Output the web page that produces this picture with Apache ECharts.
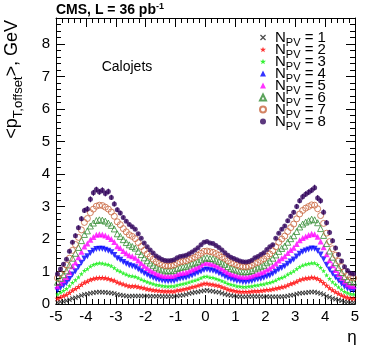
<!DOCTYPE html>
<html>
<head>
<meta charset="utf-8">
<script src="https://cdn.jsdelivr.net/npm/echarts@6/dist/echarts.min.js"></script>
<style>
  html, body { margin: 0; padding: 0; background: #fff; }
  #box01 { width: 374px; height: 359px; }
</style>
</head>
<body>
<div id="box01"></div>
<script>
// eta bin centres
var eta = [-4.95,-4.85,-4.75,-4.65,-4.55,-4.45,-4.35,-4.25,-4.15,-4.05,
  -3.95,-3.85,-3.75,-3.65,-3.55,-3.45,-3.35,-3.25,-3.15,-3.05,
  -2.95,-2.85,-2.75,-2.65,-2.55,-2.45,-2.35,-2.25,-2.15,-2.05,
  -1.95,-1.85,-1.75,-1.65,-1.55,-1.45,-1.35,-1.25,-1.15,-1.05,
  -0.95,-0.85,-0.75,-0.65,-0.55,-0.45,-0.35,-0.25,-0.15,-0.05,
  0.05,0.15,0.25,0.35,0.45,0.55,0.65,0.75,0.85,0.95,
  1.05,1.15,1.25,1.35,1.45,1.55,1.65,1.75,1.85,1.95,
  2.05,2.15,2.25,2.35,2.45,2.55,2.65,2.75,2.85,2.95,
  3.05,3.15,3.25,3.35,3.45,3.55,3.65,3.75,3.85,3.95,
  4.05,4.15,4.25,4.35,4.45,4.55,4.65,4.75,4.85,4.95];

// <pT offset> per NPV
var npv1 = [0.05,0.07,0.08,0.10,0.13,0.17,0.19,0.22,0.26,0.29,
  0.31,0.33,0.35,0.36,0.37,0.36,0.36,0.35,0.34,0.32,
  0.29,0.28,0.26,0.25,0.24,0.25,0.25,0.25,0.25,0.25,
  0.25,0.24,0.24,0.24,0.24,0.23,0.23,0.23,0.23,0.23,
  0.25,0.26,0.27,0.29,0.32,0.34,0.36,0.37,0.39,0.41,
  0.42,0.40,0.39,0.37,0.36,0.33,0.30,0.28,0.26,0.25,
  0.23,0.23,0.22,0.22,0.23,0.23,0.23,0.23,0.23,0.22,
  0.23,0.22,0.22,0.22,0.22,0.22,0.23,0.25,0.27,0.28,
  0.31,0.33,0.34,0.35,0.36,0.37,0.37,0.35,0.32,0.29,
  0.24,0.21,0.17,0.15,0.12,0.10,0.07,0.06,0.05,0.05];
var npv2 = [0.17,0.21,0.25,0.29,0.35,0.42,0.47,0.53,0.60,0.66,
  0.70,0.75,0.78,0.80,0.81,0.81,0.80,0.78,0.75,0.72,
  0.67,0.64,0.61,0.58,0.55,0.55,0.55,0.53,0.51,0.49,
  0.46,0.45,0.43,0.42,0.41,0.40,0.39,0.39,0.39,0.39,
  0.42,0.43,0.45,0.47,0.49,0.52,0.54,0.57,0.60,0.63,
  0.63,0.61,0.60,0.58,0.56,0.52,0.49,0.45,0.43,0.41,
  0.39,0.38,0.38,0.38,0.38,0.39,0.40,0.40,0.41,0.42,
  0.44,0.44,0.46,0.48,0.50,0.52,0.54,0.58,0.62,0.65,
  0.69,0.74,0.77,0.79,0.80,0.82,0.81,0.78,0.72,0.65,
  0.57,0.49,0.43,0.37,0.32,0.27,0.23,0.20,0.18,0.17];
var npv3 = [0.30,0.36,0.41,0.47,0.56,0.66,0.74,0.83,0.93,1.03,
  1.08,1.16,1.21,1.24,1.26,1.25,1.23,1.21,1.17,1.11,
  1.04,1.00,0.95,0.91,0.87,0.86,0.84,0.80,0.76,0.72,
  0.68,0.65,0.62,0.59,0.58,0.56,0.55,0.54,0.55,0.55,
  0.58,0.60,0.62,0.64,0.67,0.70,0.73,0.76,0.80,0.84,
  0.85,0.82,0.81,0.78,0.75,0.71,0.67,0.63,0.60,0.58,
  0.55,0.54,0.53,0.53,0.54,0.55,0.57,0.58,0.60,0.61,
  0.64,0.66,0.69,0.73,0.78,0.81,0.85,0.91,0.96,1.01,
  1.08,1.14,1.19,1.22,1.24,1.26,1.26,1.21,1.12,1.02,
  0.89,0.78,0.68,0.60,0.52,0.45,0.38,0.34,0.31,0.30];
var npv4 = [0.42,0.50,0.57,0.65,0.77,0.91,1.01,1.14,1.27,1.40,
  1.47,1.57,1.64,1.69,1.70,1.70,1.67,1.64,1.59,1.51,
  1.41,1.36,1.29,1.24,1.19,1.16,1.13,1.07,1.01,0.95,
  0.90,0.85,0.81,0.77,0.75,0.72,0.71,0.70,0.71,0.71,
  0.75,0.78,0.79,0.81,0.85,0.88,0.92,0.96,1.00,1.05,
  1.06,1.04,1.02,0.99,0.95,0.90,0.85,0.80,0.77,0.74,
  0.71,0.70,0.68,0.68,0.69,0.71,0.74,0.76,0.78,0.81,
  0.85,0.88,0.93,0.99,1.06,1.11,1.16,1.24,1.31,1.37,
  1.46,1.55,1.61,1.65,1.68,1.71,1.70,1.64,1.52,1.38,
  1.21,1.06,0.94,0.82,0.72,0.62,0.54,0.48,0.44,0.42];
var npv5 = [0.55,0.65,0.73,0.83,0.98,1.16,1.28,1.44,1.61,1.77,
  1.86,1.98,2.06,2.13,2.15,2.14,2.11,2.06,2.00,1.91,
  1.78,1.72,1.63,1.56,1.50,1.47,1.42,1.34,1.26,1.18,
  1.11,1.05,1.00,0.95,0.91,0.88,0.86,0.86,0.86,0.88,
  0.92,0.95,0.96,0.98,1.02,1.06,1.10,1.15,1.21,1.26,
  1.28,1.25,1.23,1.19,1.15,1.09,1.03,0.98,0.93,0.91,
  0.88,0.85,0.84,0.83,0.85,0.87,0.91,0.93,0.97,1.00,
  1.06,1.10,1.17,1.25,1.34,1.41,1.47,1.57,1.66,1.73,
  1.85,1.96,2.03,2.08,2.12,2.16,2.15,2.07,1.92,1.75,
  1.53,1.35,1.19,1.05,0.92,0.80,0.69,0.61,0.56,0.55];
var npv6 = [0.67,0.79,0.90,1.02,1.20,1.41,1.56,1.74,1.95,2.14,
  2.25,2.40,2.49,2.57,2.59,2.58,2.55,2.49,2.42,2.31,
  2.16,2.08,1.98,1.89,1.82,1.77,1.72,1.62,1.52,1.42,
  1.33,1.26,1.19,1.13,1.08,1.05,1.02,1.02,1.02,1.04,
  1.09,1.12,1.14,1.16,1.20,1.24,1.27,1.30,1.36,1.41,
  1.42,1.40,1.39,1.35,1.31,1.26,1.22,1.15,1.10,1.07,
  1.04,1.01,0.99,0.99,1.00,1.03,1.08,1.11,1.15,1.19,
  1.27,1.32,1.41,1.51,1.62,1.71,1.78,1.90,2.01,2.10,
  2.23,2.37,2.46,2.52,2.56,2.61,2.59,2.50,2.32,2.11,
  1.86,1.63,1.44,1.27,1.12,0.97,0.84,0.75,0.69,0.67];
var npv7 = [0.80,0.94,1.06,1.20,1.41,1.65,1.83,2.05,2.28,2.51,
  2.63,2.81,2.92,3.01,3.04,3.03,2.98,2.92,2.83,2.70,
  2.53,2.44,2.32,2.22,2.13,2.08,2.01,1.89,1.77,1.65,
  1.54,1.46,1.38,1.30,1.25,1.21,1.18,1.17,1.18,1.20,
  1.25,1.29,1.31,1.33,1.37,1.40,1.44,1.50,1.56,1.62,
  1.63,1.61,1.59,1.55,1.50,1.44,1.40,1.33,1.27,1.24,
  1.20,1.16,1.15,1.14,1.16,1.19,1.25,1.28,1.34,1.39,
  1.47,1.54,1.64,1.76,1.90,2.00,2.09,2.23,2.35,2.46,
  2.62,2.77,2.88,2.95,3.00,3.05,3.04,2.93,2.72,2.48,
  2.18,1.92,1.70,1.50,1.32,1.15,1.00,0.89,0.82,0.80];
var npv8 = [0.92,1.08,1.22,1.38,1.62,1.90,2.10,2.35,2.62,2.88,
  2.92,3.22,3.42,3.52,3.45,3.50,3.40,3.46,3.28,3.08,
  2.90,2.80,2.66,2.55,2.45,2.38,2.30,2.16,2.02,1.88,
  1.76,1.66,1.57,1.48,1.42,1.37,1.34,1.33,1.34,1.36,
  1.42,1.46,1.48,1.50,1.55,1.60,1.66,1.73,1.82,1.90,
  1.92,1.88,1.86,1.80,1.74,1.66,1.58,1.50,1.44,1.40,
  1.36,1.32,1.30,1.29,1.31,1.35,1.42,1.46,1.52,1.58,
  1.68,1.76,1.82,2.02,2.18,2.30,2.40,2.56,2.70,2.82,
  3.00,3.18,3.30,3.38,3.44,3.50,3.58,3.26,3.18,2.82,
  2.50,2.20,1.95,1.72,1.52,1.32,1.15,1.03,0.95,0.92];
// statistical errors on NPV = 8 (visible only for this one)
var err8 = [0.05,0.05,0.05,0.05,0.06,0.06,0.07,0.07,0.08,0.08,
  0.09,0.09,0.09,0.09,0.09,0.09,0.09,0.09,0.08,0.08,
  0.07,0.07,0.06,0.05,0.05,0.04,0.04,0.04,0.03,0.03,
  0.03,0.03,0.03,0.03,0.03,0.03,0.03,0.03,0.03,0.03,
  0.03,0.03,0.03,0.03,0.03,0.03,0.03,0.03,0.03,0.03,
  0.03,0.03,0.03,0.03,0.03,0.03,0.03,0.03,0.03,0.03,
  0.03,0.03,0.03,0.03,0.03,0.03,0.03,0.03,0.03,0.03,
  0.03,0.03,0.04,0.04,0.04,0.05,0.05,0.06,0.07,0.07,
  0.08,0.08,0.09,0.09,0.09,0.09,0.09,0.09,0.09,0.09,
  0.08,0.08,0.07,0.07,0.06,0.06,0.05,0.05,0.05,0.05];

var yTicks = [0, 1, 2, 3, 4, 5, 6, 7, 8];
var xTicks = [-5, -4, -3, -2, -1, 0, 1, 2, 3, 4, 5];

var FONT = 'Liberation Sans, Arial, Helvetica, sans-serif';

var crossPath = 'path://M0,1.5 L1.5,0 L5,3.5 L8.5,0 L10,1.5 L6.5,5 L10,8.5 L8.5,10 L5,6.5 L1.5,10 L0,8.5 L3.5,5 Z';
var starPath = 'path://M5,0 L6.18,3.38 L9.76,3.45 L6.9,5.62 L7.94,9.05 L5,7 L2.06,9.05 L3.1,5.62 L0.24,3.45 L3.82,3.38 Z';

function pairs(vals) {
    return eta.map(function (e, i) { return [e, vals[i]]; });
}

var myChart = echarts.init(document.getElementById('box01'));

// axis helpers (ROOT style frame, ticks inside)
function xAxisOpt(pos, labels) {
    return {
        type: 'value', position: pos, min: xTicks[0], max: xTicks[xTicks.length - 1], interval: 1,
        axisLine: { show: true, onZero: false, lineStyle: { color: '#000', width: 1 } },
        axisTick: { show: true, inside: true, length: 9, lineStyle: { color: '#000' } },
        minorTick: { show: true, splitNumber: 5, length: 5, lineStyle: { color: '#000' } },
        splitLine: { show: false },
        axisLabel: { show: labels, color: '#000', fontSize: 15, fontFamily: FONT, margin: 5 }
    };
}
function yAxisOpt(pos, labels) {
    return {
        type: 'value', position: pos, min: yTicks[0], max: 8.8, interval: 1,
        axisLine: { show: true, onZero: false, lineStyle: { color: '#000', width: 1 } },
        axisTick: { show: true, inside: true, length: 9, lineStyle: { color: '#000' } },
        minorTick: { show: true, splitNumber: 5, length: 5, lineStyle: { color: '#000' } },
        splitLine: { show: false },
        axisLabel: { show: labels, showMaxLabel: false, color: '#000', fontSize: 15, fontFamily: FONT, margin: 6 }
    };
}

var seriesDef = [
    { n: 1, d: npv1, symbol: crossPath, size: 5, color: '#222222' },
    { n: 2, d: npv2, symbol: starPath, size: 6, color: '#ff0000' },
    { n: 3, d: npv3, symbol: starPath, size: 5, color: '#00ee00' },
    { n: 4, d: npv4, symbol: 'triangle', rot: 180, size: 6, color: '#0000ff' },
    { n: 5, d: npv5, symbol: 'triangle', size: 6, color: '#ff00ff' },
    { n: 6, d: npv6, symbol: 'triangle', size: 6, color: '#338c33', open: true },
    { n: 7, d: npv7, symbol: 'circle', size: 6, color: '#c8643c', open: true },
    { n: 8, d: npv8, symbol: 'circle', size: 5, color: '#33065e' }
];

var series = seriesDef.map(function (s) {
    return {
        name: 'NPV = ' + s.n,
        type: 'scatter',
        data: pairs(s.d),
        symbol: s.symbol,
        symbolSize: s.size,
        symbolRotate: s.rot || 0,
        itemStyle: s.open
            ? { color: 'rgba(255,255,255,0)', borderColor: s.color, borderWidth: 1 }
            : { color: s.color },
        emphasis: { disabled: true }
    };
});

// error bars for NPV = 8
series.push({
    name: 'err8',
    type: 'custom',
    data: eta.map(function (e, i) { return [e, npv8[i], err8[i]]; }),
    renderItem: function (params, api) {
        var lo = api.coord([api.value(0), api.value(1) - api.value(2)]);
        var hi = api.coord([api.value(0), api.value(1) + api.value(2)]);
        return {
            type: 'line',
            shape: { x1: lo[0], y1: lo[1], x2: hi[0], y2: hi[1] },
            style: { stroke: '#33065e', lineWidth: 1 }
        };
    },
    z: 1
});

var legendNames = seriesDef.map(function (s) { return 'NPV = ' + s.n; });

var option = {
    animation: false,
    backgroundColor: '#fff',
    grid: { left: 56, right: 19, top: 18, bottom: 55 },
    xAxis: [xAxisOpt('bottom', true), xAxisOpt('top', false)],
    yAxis: [yAxisOpt('left', true), yAxisOpt('right', false)],
    legend: {
        orient: 'vertical', left: 254, top: 22,
        itemWidth: 6, itemHeight: 6, itemGap: -9,
        selectedMode: false,
        data: legendNames,
        formatter: function (name) {
            return '{n0|N}{s|PV}{n|' + name.replace('NPV', '') + '}';
        },
        textStyle: {
            color: '#000', fontFamily: FONT,
            rich: {
                n0: { fontSize: 15, lineHeight: 12, verticalAlign: 'middle', fontFamily: FONT, color: '#000', padding: [0, 0, 0, 4] },
                n: { fontSize: 15, lineHeight: 12, verticalAlign: 'middle', fontFamily: FONT, color: '#000' },
                s: { fontSize: 11, lineHeight: 2, verticalAlign: 'middle', padding: [10, 0, 0, 0], fontFamily: FONT, color: '#000' }
            }
        }
    },
    graphic: [
        {
            type: 'text', left: 56, top: 2,
            style: {
                text: '{b|CMS, L = 36 pb}{sup|-1}',
                rich: {
                    b: { fontSize: 14, fontWeight: 'bold', fontFamily: FONT, lineHeight: 16, fill: '#000' },
                    sup: { fontSize: 9, fontWeight: 'bold', fontFamily: FONT, lineHeight: 6, verticalAlign: 'top', fill: '#000' }
                }
            }
        },
        {
            type: 'text', x: 127, y: 67,
            style: { text: 'Calojets', fontSize: 14, fontFamily: FONT, fill: '#000', align: 'center', verticalAlign: 'middle' }
        },
        {
            type: 'text', x: 352, y: 337,
            style: { text: 'η', fontSize: 17, fontFamily: FONT, fill: '#000', align: 'center', verticalAlign: 'middle' }
        },
        {
            type: 'text', x: 12, y: 20, rotation: Math.PI / 2,
            style: {
                text: '{m|<p}{s|T,offset}{m|>, GeV}',
                align: 'right', verticalAlign: 'middle',
                rich: {
                    m: { fontSize: 18, fontFamily: FONT, lineHeight: 16, verticalAlign: 'middle', fill: '#000' },
                    s: { fontSize: 13, fontFamily: FONT, lineHeight: 2, verticalAlign: 'middle', padding: [12, 0, 0, 0], fill: '#000' }
                }
            }
        }
    ],
    series: series
};

myChart.setOption(option);
</script>
</body>
</html>
